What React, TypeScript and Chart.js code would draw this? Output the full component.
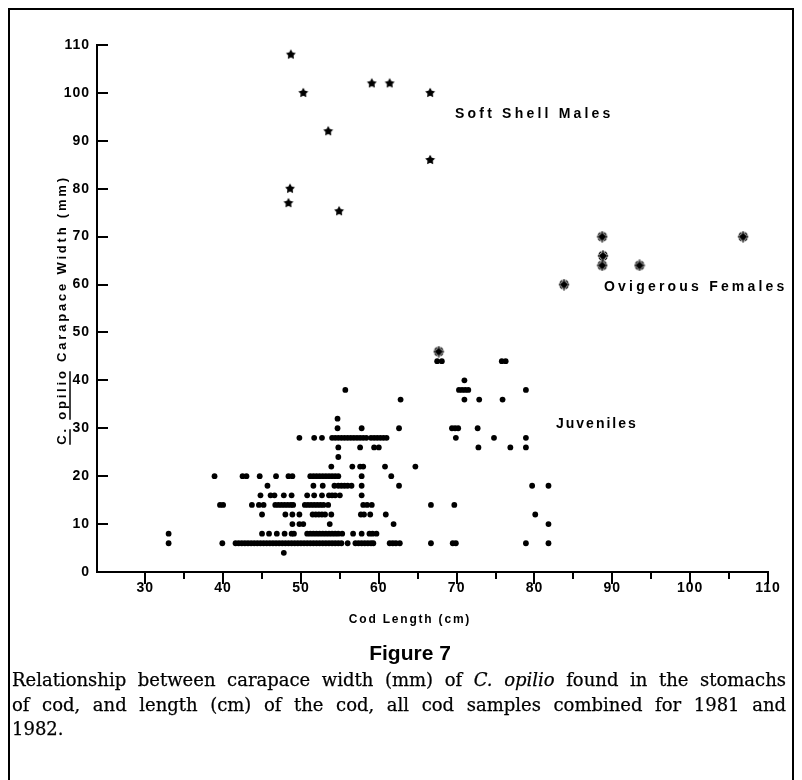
import React, { useEffect, useRef } from 'react';
import { Chart, registerables } from 'chart.js';

Chart.register(...registerables);

// ---- axis ticks ----
const xTicks = [30, 40, 50, 60, 70, 80, 90, 100, 110];
const xMinorTicks = [35, 45, 55, 65, 75, 85, 95, 105];
const yTicks = [0, 10, 20, 30, 40, 50, 60, 70, 80, 90, 100, 110];

// ---- Soft shell males ----
const softShellLength = [48.7, 50.3, 53.5, 59.1, 61.4, 66.6, 66.6, 48.6, 48.4, 54.9];
const softShellWidth = [108, 100, 92, 102, 102, 100, 86, 80, 77, 75.3];

// ---- Ovigerous females ----
const ovigLength = [88.7, 88.8, 88.7, 93.5, 106.8, 83.8, 67.7];
const ovigWidth = [70, 66, 64, 64, 70, 60, 46];

// ---- Juveniles: cod lengths at each carapace width level ----
const juv4 = [47.8];
const juv6 = [33.0, 39.9, 41.6, 42.0, 42.4, 42.8, 43.2, 43.6, 44.0, 44.4, 44.8, 45.2, 45.6, 46.0, 46.4, 46.8, 47.2, 47.6, 48.0, 48.4, 48.8, 49.2, 49.6, 50.0, 50.4, 50.8, 51.2, 51.6, 52.0, 52.4, 52.8, 53.2, 53.6, 54.0, 54.4, 54.8, 55.2, 56.0, 57.0, 57.4, 57.8, 58.2, 58.6, 59.0, 59.3, 61.4, 61.8, 62.2, 62.7, 66.7, 69.5, 69.9, 78.9, 81.8];
const juv8 = [33.0, 45.0, 45.9, 46.9, 47.9, 48.8, 49.1, 50.8, 51.2, 51.6, 52.0, 52.4, 52.8, 53.2, 53.6, 54.0, 54.4, 54.8, 55.3, 56.7, 57.8, 58.8, 59.2, 59.7];
const juv10 = [48.9, 49.8, 50.3, 53.7, 61.9, 81.8];
const juv12 = [45.0, 48.0, 48.9, 49.8, 51.5, 51.9, 52.3, 52.7, 53.1, 53.9, 57.7, 58.1, 58.9, 60.9, 80.1];
const juv14 = [39.6, 40.0, 43.7, 44.6, 45.2, 46.7, 47.1, 47.5, 47.9, 48.3, 48.7, 49.0, 50.5, 50.9, 51.3, 51.7, 52.1, 52.5, 52.9, 53.5, 58.0, 58.5, 59.1, 66.7, 69.7];
const juv16 = [44.8, 46.1, 46.6, 47.8, 48.8, 50.8, 51.7, 52.7, 53.6, 54.0, 54.4, 55.0, 57.8];
const juv18 = [45.7, 51.6, 52.8, 54.3, 54.8, 55.2, 55.6, 56.0, 56.5, 57.8, 62.6, 79.7, 81.8];
const juv20 = [38.9, 42.5, 43.0, 44.7, 46.8, 48.4, 48.9, 51.2, 51.6, 52.0, 52.4, 52.8, 53.2, 53.6, 54.0, 54.4, 54.8, 57.8, 61.6];
const juv22 = [53.9, 56.6, 57.6, 58.0, 60.8, 64.7];
const juv24 = [54.8];
const juv26 = [54.8, 57.6, 59.4, 60.0, 72.8, 76.9, 78.9];
const juv28 = [49.8, 51.7, 52.7, 54.0, 54.4, 54.8, 55.2, 55.6, 56.0, 56.4, 56.8, 57.2, 57.6, 58.0, 58.4, 59.0, 59.4, 59.8, 60.2, 60.6, 61.0, 69.9, 74.8, 78.9];
const juv30 = [54.7, 57.8, 62.6, 69.4, 69.8, 70.2, 72.7];
const juv32 = [54.7];
const juv36 = [62.8, 71.0, 72.9, 75.9];
const juv38 = [55.7, 70.3, 70.7, 71.1, 71.5, 78.9];
const juv40 = [71.0];
const juv44 = [67.5, 68.1, 75.8, 76.3];

const juvenileRows: [number, number[]][] = [
  [4, juv4], [6, juv6], [8, juv8], [10, juv10], [12, juv12], [14, juv14],
  [16, juv16], [18, juv18], [20, juv20], [22, juv22], [24, juv24], [26, juv26],
  [28, juv28], [30, juv30], [32, juv32], [36, juv36], [38, juv38], [40, juv40], [44, juv44],
];

const FONT = '"Liberation Sans", Arial, sans-serif';

function makeStar(): HTMLCanvasElement {
  const c = document.createElement('canvas');
  c.width = 12; c.height = 12;
  const g = c.getContext('2d')!;
  g.fillStyle = '#000';
  g.beginPath();
  for (let i = 0; i < 10; i++) {
    const r = i % 2 === 0 ? 5.2 : 2.8;
    const a = -Math.PI / 2 + (i * Math.PI) / 5;
    const px = 6 + r * Math.cos(a);
    const py = 6 + r * Math.sin(a);
    if (i === 0) g.moveTo(px, py); else g.lineTo(px, py);
  }
  g.closePath();
  g.fill();
  return c;
}

function makeOvig(): HTMLCanvasElement {
  const c = document.createElement('canvas');
  c.width = 12; c.height = 12;
  const g = c.getContext('2d')!;
  g.fillStyle = '#000';
  g.strokeStyle = '#000';
  g.beginPath();
  g.arc(6, 6, 3.1, 0, Math.PI * 2);
  g.fill();
  g.lineWidth = 1.2;
  for (let k = 0; k < 4; k++) {
    const a0 = (k * Math.PI) / 2 + 0.35;
    g.beginPath();
    g.arc(6, 6, 4.4, a0, a0 + Math.PI / 2 - 0.7);
    g.stroke();
  }
  g.lineWidth = 1.4;
  g.beginPath();
  g.moveTo(6, 0.5); g.lineTo(6, 11.5);
  g.moveTo(0.8, 6); g.lineTo(11.2, 6);
  g.stroke();
  return c;
}

function drawSpaced(ctx: CanvasRenderingContext2D, text: string, x: number, y: number, spacing: number) {
  (ctx as any).letterSpacing = spacing + 'px';
  ctx.fillText(text, x, y);
  (ctx as any).letterSpacing = '0px';
}

const decorPlugin = {
  id: 'decor',
  beforeDraw(chart: any) {
    (chart.ctx as any).letterSpacing = '1px';
  },
  afterDraw(chart: any) {
    const { ctx, chartArea } = chart;
    (ctx as any).letterSpacing = '0px';
    const xs = chart.scales.x;
    const ys = chart.scales.y;
    ctx.save();
    ctx.strokeStyle = '#000';
    ctx.fillStyle = '#000';
    ctx.lineWidth = 2;
    yTicks.forEach((v) => {
      if (v === 0) return;
      const py = Math.round(ys.getPixelForValue(v));
      ctx.beginPath();
      ctx.moveTo(chartArea.left, py);
      ctx.lineTo(chartArea.left + 11, py);
      ctx.stroke();
    });
    xTicks.forEach((v) => {
      const px = Math.round(xs.getPixelForValue(v));
      ctx.beginPath();
      ctx.moveTo(px, chartArea.bottom);
      ctx.lineTo(px, chartArea.bottom + 12);
      ctx.stroke();
    });
    xMinorTicks.forEach((v) => {
      const px = Math.round(xs.getPixelForValue(v));
      ctx.beginPath();
      ctx.moveTo(px, chartArea.bottom);
      ctx.lineTo(px, chartArea.bottom + 7);
      ctx.stroke();
    });

    ctx.font = `bold 14px ${FONT}`;
    ctx.textBaseline = 'middle';
    ctx.textAlign = 'left';
    drawSpaced(ctx, 'Soft Shell Males', 447, 106, 3.2);
    drawSpaced(ctx, 'Ovigerous Females', 596, 279, 3.2);
    drawSpaced(ctx, 'Juveniles', 548, 416, 2.0);

    ctx.font = `bold 12px ${FONT}`;
    ctx.textAlign = 'center';
    drawSpaced(ctx, 'Cod Length (cm)', 402, 612, 1.8);

    ctx.save();
    ctx.translate(54, 302);
    ctx.rotate(-Math.PI / 2);
    ctx.font = `bold 13px ${FONT}`;
    ctx.textAlign = 'left';
    ctx.textBaseline = 'middle';
    (ctx as any).letterSpacing = '2.8px';
    const parts = ['C.', ' ', 'opilio', ' Carapace Width (mm)'];
    const widths = parts.map((p) => ctx.measureText(p).width);
    const total = widths.reduce((a, b) => a + b, 0);
    let cx = -total / 2;
    parts.forEach((p, i) => {
      ctx.fillText(p, cx, 0);
      if (p === 'C.' || p === 'opilio') {
        ctx.lineWidth = 1.5;
        ctx.beginPath();
        ctx.moveTo(cx, 8);
        ctx.lineTo(cx + widths[i] - 3, 8);
        ctx.stroke();
      }
      cx += widths[i];
    });
    (ctx as any).letterSpacing = '0px';
    ctx.restore();
    ctx.restore();
  },
};

export default function App() {
  const canvasRef = useRef<HTMLCanvasElement | null>(null);

  useEffect(() => {
    if (!canvasRef.current) return;
    const juvPoints: { x: number; y: number }[] = [];
    juvenileRows.forEach(([w, lengths]) => {
      lengths.forEach((l) => juvPoints.push({ x: l, y: w }));
    });
    const softPoints = softShellLength.map((l, i) => ({ x: l, y: softShellWidth[i] }));
    const ovigPoints = ovigLength.map((l, i) => ({ x: l, y: ovigWidth[i] }));

    const chart = new Chart(canvasRef.current, {
      type: 'scatter',
      data: {
        datasets: [
          {
            label: 'Juveniles',
            data: juvPoints,
            pointStyle: 'circle',
            pointRadius: 2.9,
            backgroundColor: '#000',
            borderColor: '#000',
            borderWidth: 0,
          },
          {
            label: 'Soft Shell Males',
            data: softPoints,
            pointStyle: makeStar() as any,
            pointRadius: 6,
            backgroundColor: '#000',
            borderColor: '#000',
          },
          {
            label: 'Ovigerous Females',
            data: ovigPoints,
            pointStyle: makeOvig() as any,
            pointRadius: 6,
            backgroundColor: '#000',
            borderColor: '#000',
          },
        ],
      },
      options: {
        responsive: false,
        animation: false,
        devicePixelRatio: 1,
        layout: { padding: { left: 29, right: 26, top: 37, bottom: 16 } },
        plugins: {
          legend: { display: false },
          tooltip: { enabled: false },
          title: { display: false },
        },
        scales: {
          x: {
            type: 'linear',
            min: 23.8,
            max: 110,
            afterBuildTicks: (scale: any) => {
              scale.ticks = xTicks.map((v) => ({ value: v }));
            },
            afterFit: (scale: any) => {
              scale.height = 60;
            },
            grid: { display: false, drawTicks: false },
            border: { display: true, color: '#000', width: 2 },
            ticks: {
              color: '#000',
              padding: 8,
              maxRotation: 0,
              autoSkip: false,
              font: { family: FONT, weight: 'bold', size: 14 },
            },
          },
          y: {
            type: 'linear',
            min: 0,
            max: 110,
            afterBuildTicks: (scale: any) => {
              scale.ticks = yTicks.map((v) => ({ value: v }));
            },
            afterFit: (scale: any) => {
              scale.width = 60;
            },
            grid: { display: false, drawTicks: false },
            border: { display: true, color: '#000', width: 2 },
            ticks: {
              color: '#000',
              padding: 7,
              autoSkip: false,
              font: { family: FONT, weight: 'bold', size: 14 },
            },
          },
        },
      },
      plugins: [decorPlugin],
    } as any);
    return () => chart.destroy();
  }, []);

  const lineStyle: React.CSSProperties = {
    textAlign: 'justify',
    textAlignLast: 'justify' as any,
    whiteSpace: 'nowrap',
  };

  return (
    <div style={{ position: 'relative', width: 786, height: 772, overflow: 'hidden' }}>
      <canvas ref={canvasRef} width={786} height={640} style={{ position: 'absolute', left: 0, top: 0, width: 786, height: 640 }} />
      <div
        style={{
          position: 'absolute', left: 0, top: 0, width: 786, height: 800,
          boxSizing: 'border-box', border: '2px solid #000', pointerEvents: 'none',
        }}
      />
      <div
        style={{
          position: 'absolute', left: 9, top: 632, width: 786, textAlign: 'center',
          fontFamily: FONT, fontWeight: 'bold', fontSize: 21, lineHeight: '26px',
        }}
      >
        Figure 7
      </div>
      <div
        style={{
          position: 'absolute', left: 4, top: 660, width: 774,
          fontFamily: '"DejaVu Serif", serif', fontSize: 18, lineHeight: '24.5px', color: '#000',
          WebkitTextStroke: '0.25px #000',
        }}
      >
        <div style={lineStyle}>
          Relationship between carapace width (mm) of <i>C. opilio</i> found in the stomachs
        </div>
        <div style={lineStyle}>
          of cod, and length (cm) of the cod, all cod samples combined for 1981 and
        </div>
        <div>1982.</div>
      </div>
    </div>
  );
}
